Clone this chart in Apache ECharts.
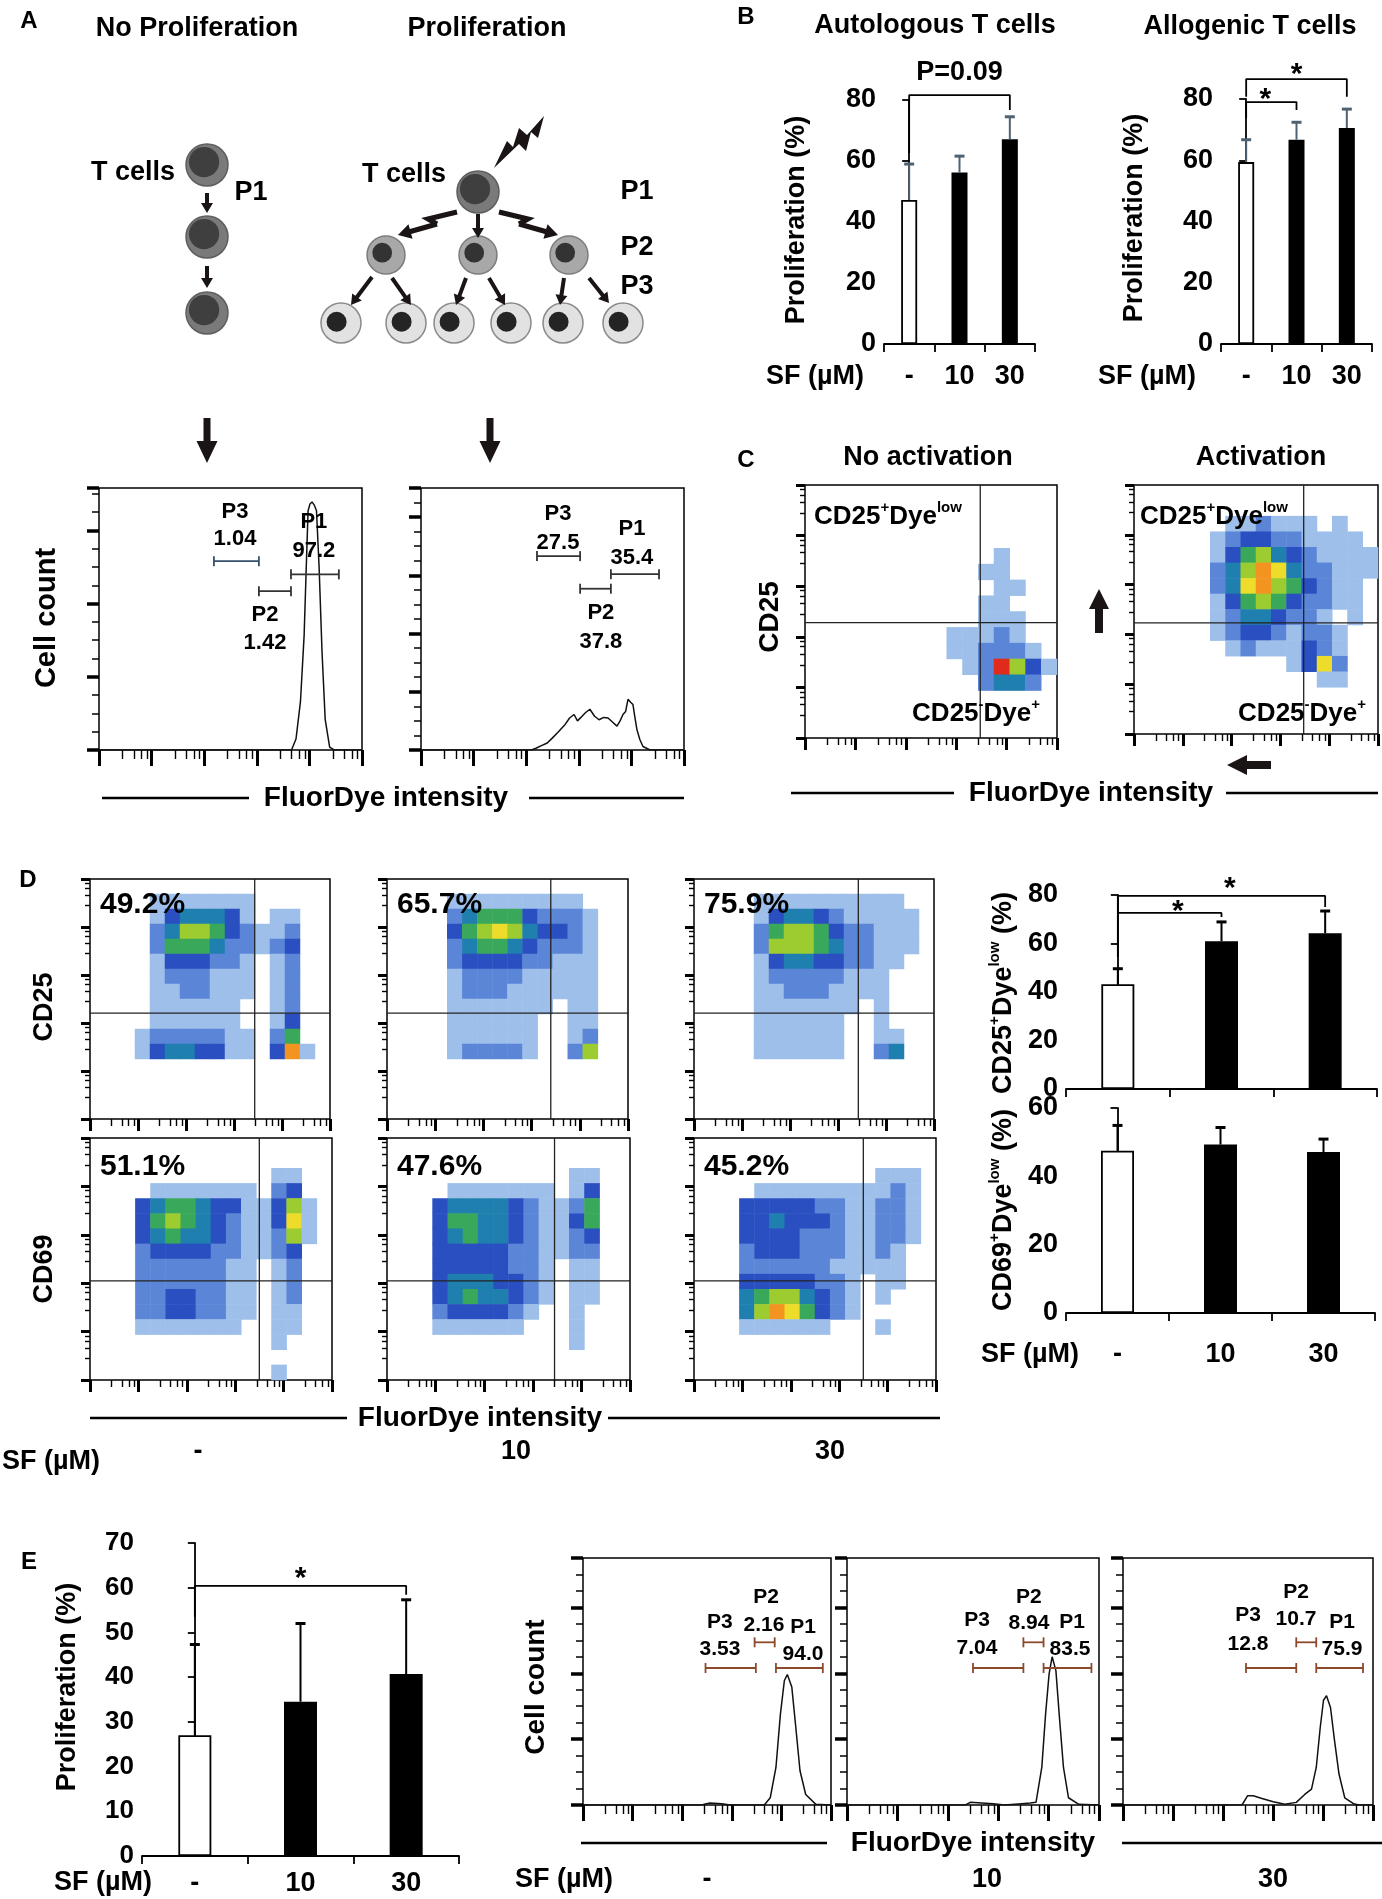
<!DOCTYPE html>
<html>
<head>
<meta charset="utf-8">
<script src="https://cdn.jsdelivr.net/npm/echarts@6/dist/echarts.min.js"></script>
<style>
  html, body { margin: 0; background: #fff; }
  #chart { width: 1382px; height: 1899px; }
</style>
</head>
<body>
<div id="chart"></div>
<script>
const FONT = "'Liberation Sans', Arial, Helvetica, sans-serif";

// ---------------- data ----------------
const doses = ['-', '10', '30'];

// B: proliferation (%) mean and SD
const autoMean = [47.2, 56.2, 67.1];
const autoSd = [11.8, 5.4, 7.4];
const alloMean = [59.4, 66.7, 70.5];
const alloSd = [7.3, 5.7, 6.2];

// D: CD25+Dye-low / CD69+Dye-low (%)
const cd25Mean = [43.2, 60.9, 64.2];
const cd25Sd = [6.4, 8.0, 9.2];
const cd69Mean = [47.5, 49.3, 47.1];
const cd69Sd = [7.4, 5.0, 3.8];
const cd25Pct = ['49.2%', '65.7%', '75.9%'];
const cd69Pct = ['51.1%', '47.6%', '45.2%'];

// E: proliferation (%)
const eMean = [27.0, 34.5, 40.7];
const eSd = [20.3, 17.5, 16.6];

// histograms: [FluorDye channel 0-1000, cell count]
const histNoProlif = [[0,0],[732,0],[749,15],[766,66],[780,157],[788,249],[795,327],[802,336],[810,339],[818,335],[827,327],[837,249],[848,134],[860,42],[877,4],[894,0],[1000,0]];
const histProlif = [[0,0],[420,0],[437,3],[460,8],[480,12],[498,20],[520,30],[548,44],[565,55],[582,61],[595,50],[608,56],[625,64],[642,70],[660,58],[677,52],[695,56],[711,55],[728,48],[745,41],[757,50],[768,61],[778,66],[787,87],[797,82],[806,78],[812,60],[821,35],[832,18],[844,6],[871,0],[1000,0]];
const histE0 = [[0,0],[480,0],[489,1],[512,3],[560,2],[593,0],[731,0],[755,11],[778,57],[796,138],[812,189],[824,198],[842,179],[858,118],[875,52],[898,16],[939,1],[1000,0]];
const histE10 = [[0,0],[470,0],[489,4],[535,3],[580,2],[625,0],[693,2],[727,3],[750,4],[773,57],[788,138],[802,199],[814,225],[829,204],[843,133],[859,57],[879,11],[920,1],[1000,0]];
const histE30 = [[0,0],[476,0],[498,14],[521,14],[556,10],[601,5],[647,1],[693,4],[727,16],[754,24],[773,57],[789,118],[802,159],[814,166],[830,148],[846,98],[864,47],[887,11],[922,2],[944,0],[1000,0]];

// gates: [name, percent, from channel, to channel]
const gatesNoProlif = [['P3','1.04',437,608],['P2','1.42',608,730],['P1','97.2',730,912]];
const gatesProlif = [['P3','27.5',441,605],['P2','37.8',605,722],['P1','35.4',722,905]];
const gatesE0 = [['P3','3.53',494,697],['P2','2.16',692,773],['P1','94.0',778,967]];
const gatesE10 = [['P3','7.04',500,700],['P2','8.94',700,780],['P1','83.5',780,970]];
const gatesE30 = [['P3','12.8',492,693],['P2','10.7',693,773],['P1','75.9',773,960]];

// dot-plot density (16 x 16 bins, top row first, 0 = empty ... 9 = densest)
const c1Rows = ['0000000000000000','0000000000000000','0000000000000000','0000000000000000',
  '0000000000001000','0000000000011000','0000000000001100','0000000000011000',
  '0000000000011100','0000000001112100','0000000001122210','0000000000129631',
  '0000000000024420','0000000000000000','0000000000000000','0000000000000000'];
const c2Rows = ['0000000000000000','0000000000000000','0000001121110100','0000012332211110',
  '0000013564321111','0000024687422111','0000024786532110','0000013565322110',
  '0000012443221010','0000012332122100','0000001211132100','0000000000137200',
  '0000000000001100','0000000000000000','0000000000000000','0000000000000000'];
const d25Rows0 = ['0000000000000000','0000111111100000','0000134443101100','0000246653211200',
  '0000255542212300','0000133322101200','0000122211101200','0000112211101200',
  '0000111111001200','0000111111001300','0001222221102500','0001344331103810',
  '0000000000000000','0000000000000000','0000000000000000','0000000000000000'];
const d25Rows10 = ['0000000000000000','0000111111111000','0000245553222100','0000356764332100',
  '0000245543222100','0000233332211100','0000122221111100','0000122211111100',
  '0000111111101100','0000111111001100','0000111111001200','0000122221002600',
  '0000000000000000','0000000000000000','0000000000000000','0000000000000000'];
const d25Rows30 = ['0000000000000000','0000111111111100','0000134432111110','0000256653221110',
  '0000266654221110','0000134433221100','0000122222111000','0000112221111000',
  '0000111111101000','0000111111001000','0000111111001100','0000111111002400',
  '0000000000000000','0000000000000000','0000000000000000','0000000000000000'];
const d69Rows0 = ['0000000000000000','0000000000000000','0000000000001100','0000111111102300',
  '0003455433113610','0003565432113710','0003454432112610','0002333322112300',
  '0002222221101200','0002222221101200','0002233221101200','0002233221101100',
  '0001111111001100','0000000000001000','0000000000000000','0000000000001000'];
const d69Rows10 = ['0000000000000000','0000000000000000','0000000000001100','0000111111101300',
  '0003444432112500','0003554432113500','0003454432112300','0003333322112200',
  '0003333322101100','0003444332101100','0003454432101100','0002333321001000',
  '0001111110001000','0000000000001000','0000000000000000','0000000000000000'];
const d69Rows30 = ['0000000000000000','0000000000000000','0000000000001110','0000111111111210',
  '0003333322112210','0003343332112210','0003333222112210','0002333222112100',
  '0002222221111100','0003333322101100','0004566432101000','0004687532100000',
  '0001111110001000','0000000000000000','0000000000000000','0000000000000000'];

// quadrant gates [FluorDye, marker] in fluorescence units
const gateC = [[3000, 190], [3000, 170]];
const gateD25 = [[2700, 160], [2500, 160], [2650, 160]];
const gateD69 = [[3150, 112], [2800, 112], [3150, 112]];

// ---------------- builders ----------------
const grids = [], xAxis = [], yAxis = [], series = [], heatIdx = [];
const bins = Array.from({ length: 16 }, (_, i) => String(i));

function addGrid(b, border) {
  grids.push({ left: b[0], top: b[1], width: b[2], height: b[3], show: !!border,
    borderColor: '#000', borderWidth: 1.5, backgroundColor: 'rgba(0,0,0,0)',
    containLabel: false, outerBoundsMode: 'none' });
  return grids.length - 1;
}

function decorAxis(gi, pos, len) {
  return { gridIndex: gi, type: 'log', logBase: 10, min: 1, max: 100000, position: pos, silent: true,
    axisLine: { show: false }, axisLabel: { show: false }, splitLine: { show: false },
    axisTick: { show: true, length: len, lineStyle: { color: '#000', width: 3 } },
    minorTick: { show: true, splitNumber: 5, length: Math.round(len * 0.55), lineStyle: { color: '#000', width: 1.4 } } };
}

function textSeries(xi, yi, items) {
  items.forEach(t => {
    series.push({ type: 'scatter', xAxisIndex: xi, yAxisIndex: yi, symbolSize: 0, silent: true, clip: false, z: 10,
      data: [[t[0], t[1]]], itemStyle: { color: '#000', opacity: 1 },
      label: { show: true, position: 'inside', formatter: t[2], color: '#000', fontSize: t[3] || 22,
        fontWeight: 'bold', fontFamily: FONT, offset: [0, t[4] || 0],
        textBorderWidth: 0, textBorderColor: 'transparent', opacity: 1 } });
  });
}

function gateRender(color) {
  return (params, api) => {
    const a = api.coord([api.value(0), api.value(2)]);
    const b = api.coord([api.value(1), api.value(2)]);
    const st = { stroke: color, lineWidth: 1.8 };
    return { type: 'group', children: [
      { type: 'line', shape: { x1: a[0], y1: a[1], x2: b[0], y2: b[1] }, style: st },
      { type: 'line', shape: { x1: a[0], y1: a[1] - 5, x2: a[0], y2: a[1] + 5 }, style: st },
      { type: 'line', shape: { x1: b[0], y1: b[1] - 5, x2: b[0], y2: b[1] + 5 }, style: st }] };
  };
}

function histPanel(box, hist, ymax, gates, lay) {
  const gi = addGrid(box, true);
  xAxis.push({ gridIndex: gi, type: 'value', min: 0, max: 1000, show: false, position: 'top' });
  const xv = xAxis.length - 1;
  yAxis.push({ gridIndex: gi, type: 'value', min: 0, max: ymax, interval: 100, position: 'left',
    axisLine: { show: false }, axisLabel: { show: false }, splitLine: { show: false },
    axisTick: { show: true, length: 12, lineStyle: { color: '#000', width: 3.5 } },
    minorTick: { show: true, splitNumber: 4, length: 7, lineStyle: { color: '#000', width: 1.5 } } });
  const yv = yAxis.length - 1;
  xAxis.push(decorAxis(gi, 'bottom', 16));
  series.push({ type: 'line', xAxisIndex: xv, yAxisIndex: yv, data: hist, symbol: 'none', silent: true,
    lineStyle: { color: '#111', width: 1.5 }, z: 3 });
  gates.forEach((g, i) => {
    series.push({ type: 'custom', xAxisIndex: xv, yAxisIndex: yv, silent: true, z: 5,
      data: [[g[2], g[3], lay.levels[i]]], renderItem: gateRender(lay.colors[i]) });
    textSeries(xv, yv, [[lay.names[i][0], lay.names[i][1], g[0], lay.size],
      [lay.pcts[i][0], lay.pcts[i][1], g[1], lay.size]]);
  });
}

function facsPanel(box, rows, gate) {
  const gi = addGrid(box, true);
  xAxis.push({ gridIndex: gi, type: 'category', data: bins, show: false, position: 'top' });
  const xc = xAxis.length - 1;
  yAxis.push({ gridIndex: gi, type: 'category', data: bins, show: false, position: 'right' });
  const yc = yAxis.length - 1;
  xAxis.push(decorAxis(gi, 'bottom', 12));
  const xd = xAxis.length - 1;
  yAxis.push(decorAxis(gi, 'left', 9));
  const yd = yAxis.length - 1;
  const cells = [];
  rows.forEach((row, k) => {
    for (let c = 0; c < row.length; c++) {
      const v = +row[c];
      if (v > 0) cells.push([c, rows.length - 1 - k, v]);
    }
  });
  heatIdx.push(series.length);
  series.push({ type: 'heatmap', xAxisIndex: xc, yAxisIndex: yc, data: cells, silent: true, z: 2 });
  const gl = { type: 'line', xAxisIndex: xd, yAxisIndex: yd, symbol: 'none', silent: true,
    lineStyle: { color: '#222', width: 1.3 }, z: 4 };
  series.push(Object.assign({}, gl, { data: [[gate[0], 1], [gate[0], 100000]] }));
  series.push(Object.assign({}, gl, { data: [[1, gate[1]], [100000, gate[1]]] }));
}

function errRender(color) {
  return (params, api) => {
    const p0 = api.coord([api.value(0), api.value(1)]);
    const p1 = api.coord([api.value(0), api.value(2)]);
    return { type: 'group', children: [
      { type: 'line', shape: { x1: p0[0], y1: p0[1], x2: p1[0], y2: p1[1] }, style: { stroke: color, lineWidth: 2 } },
      { type: 'line', shape: { x1: p1[0] - 5, y1: p1[1], x2: p1[0] + 5, y2: p1[1] }, style: { stroke: color, lineWidth: 3 } }] };
  };
}

function barPanel(box, mean, sd, o) {
  const gi = addGrid(box, false);
  xAxis.push({ gridIndex: gi, type: 'category', data: doses,
    axisLine: { show: true, lineStyle: { color: '#000', width: 1.8 } },
    axisTick: { show: true, length: 8, lineStyle: { color: '#000', width: 1.8 } },
    axisLabel: { show: o.labels, margin: o.margin, color: '#000', fontSize: 27, fontWeight: 'bold', fontFamily: FONT },
    splitLine: { show: false } });
  const xi = xAxis.length - 1;
  // hidden index axis so annotations can sit between categories
  xAxis.push({ gridIndex: gi, type: 'value', min: -0.5, max: doses.length - 0.5, show: false, position: 'top' });
  const xn = xAxis.length - 1;
  yAxis.push({ gridIndex: gi, type: 'value', min: 0, max: o.max, interval: o.step,
    axisLine: { show: true, lineStyle: { color: '#000', width: 1.8 } },
    axisTick: { show: true, length: 7, lineStyle: { color: '#000', width: 1.8 } },
    axisLabel: { color: '#000', fontSize: o.font || 27, fontWeight: 'bold', fontFamily: FONT, margin: 8 },
    splitLine: { show: false } });
  const yi = yAxis.length - 1;
  series.push({ type: 'bar', xAxisIndex: xi, yAxisIndex: yi, barWidth: o.barWidth, silent: true, z: 3,
    data: mean.map((v, i) => ({ value: v, itemStyle: i === 0
      ? { color: '#fff', borderColor: '#000', borderWidth: 1.8 } : { color: '#000' } })) });
  series.push({ type: 'custom', xAxisIndex: xi, yAxisIndex: yi, silent: true, z: 5,
    data: mean.map((v, i) => [i, v, v + sd[i]]), renderItem: errRender(o.errColor) });
  (o.brackets || []).forEach(b => series.push({ type: 'line', xAxisIndex: xn, yAxisIndex: yi, data: b,
    symbol: 'none', clip: false, silent: true, lineStyle: { color: '#000', width: 1.8 }, z: 6 }));
  if (o.notes) textSeries(xn, yi, o.notes);
}

// ---------------- panels ----------------
// A histograms
histPanel([99, 488, 263, 262], histNoProlif, 358, gatesNoProlif, {
  levels: [258, 217, 240], colors: ['#35506b', '#333', '#333'], size: 22,
  names: [[517, 325], [631, 184], [817, 311]], pcts: [[517, 288], [631, 146], [817, 272]] });
histPanel([421, 488, 263, 262], histProlif, 450, gatesProlif, {
  levels: [333, 277, 302], colors: ['#333', '#333', '#333'], size: 22,
  names: [[521, 405], [684, 235], [802, 380]], pcts: [[521, 356], [684, 185], [802, 330]] });

// B bars
barPanel([884, 100, 151, 244], autoMean, autoSd, { max: 80, step: 20, barWidth: 16, labels: true, margin: 19,
  errColor: '#4f6272', brackets: [[[0, 62.6], [0, 81.6], [2, 81.6], [2, 76.7]]],
  notes: [[1, 88.9, 'P=0.09', 27]] });
barPanel([1221, 99, 151, 245], alloMean, alloSd, { max: 80, step: 20, barWidth: 16, labels: true, margin: 19,
  errColor: '#4f6272', brackets: [[[0, 73.8], [0, 79.0], [1, 79.0], [1, 76.4]], [[0, 80.7], [0, 86.5], [2, 86.5], [2, 80.7]]],
  notes: [[0.38, 82, '*', 30, 7], [1, 90.1, '*', 30, 7]] });

// C dot plots
facsPanel([805, 485, 252, 253], c1Rows, gateC[0]);
facsPanel([1134, 485, 244, 249], c2Rows, gateC[1]);

// D dot plots
const dCols = [[90, 240], [387, 241], [694, 240]];
[d25Rows0, d25Rows10, d25Rows30].forEach((r, i) => facsPanel([dCols[i][0], 879, dCols[i][1], 240], r, gateD25[i]));
[d69Rows0, d69Rows10, d69Rows30].forEach((r, i) => facsPanel([dCols[i][0], 1138, dCols[i][1] + 2, 242], r, gateD69[i]));

// D bars
barPanel([1066, 895, 311, 194], cd25Mean, cd25Sd, { max: 80, step: 20, barWidth: 33, labels: false, margin: 10,
  errColor: '#000', brackets: [[[0, 54.4], [0, 72.6], [1, 72.6], [1, 70.9]], [[0, 72.6], [0, 79.6], [2, 79.6], [2, 75.1]]],
  notes: [[0.58, 75.9, '*', 30, 7], [1.08, 85.4, '*', 30, 7]] });
barPanel([1066, 1108, 309, 205], cd69Mean, cd69Sd, { max: 60, step: 20, barWidth: 33, labels: true, margin: 28,
  errColor: '#000' });

// E bars
barPanel([142, 1543, 317, 313], eMean, eSd, { max: 70, step: 10, barWidth: 33, labels: true, margin: 14, font: 26,
  errColor: '#000', brackets: [[[0, 53.5], [0, 60.4], [2, 60.4], [2, 58.4]]],
  notes: [[1, 63.5, '*', 30, 7]] });

// E histograms
const eGateColors = ['#8b4a2b', '#8b4a2b', '#8b4a2b'];
histPanel([583, 1558, 248, 247], histE0, 375, gatesE0, { levels: [208, 247, 208], colors: eGateColors, size: 21,
  names: [[552, 278], [738, 316], [887, 270]], pcts: [[552, 237], [730, 273], [887, 229]] });
histPanel([847, 1558, 252, 247], histE10, 375, gatesE10, { levels: [208, 247, 208], colors: eGateColors, size: 21,
  names: [[516, 281], [722, 316], [893, 278]], pcts: [[516, 238], [722, 276], [885, 237]] });
histPanel([1123, 1558, 250, 247], histE30, 375, gatesE30, { levels: [208, 247, 208], colors: eGateColors, size: 21,
  names: [[500, 288], [692, 323], [876, 278]], pcts: [[500, 244], [692, 282], [876, 237]] });

// ---------------- drawings and text ----------------
const G = [];
function txt(x, y, s, o) {
  o = o || {};
  G.push({ type: 'text', x: x, y: y, rotation: o.rot || 0, z: 100, silent: true,
    style: { text: s, fill: '#000', fontSize: o.size || 27, fontWeight: 'bold', fontFamily: FONT,
      align: o.align || 'center', textAlign: o.align || 'center', verticalAlign: 'middle', textVerticalAlign: 'middle',
      rich: o.rich } });
}
function rule(x1, x2, y) {
  G.push({ type: 'line', shape: { x1: x1, y1: y, x2: x2, y2: y }, style: { stroke: '#000', lineWidth: 2.5 }, silent: true, z: 100 });
}
function arrowPts(x1, y1, x2, y2, w, hw, hl) {
  const dx = x2 - x1, dy = y2 - y1, L = Math.hypot(dx, dy), ux = dx / L, uy = dy / L, nx = -uy, ny = ux;
  const bx = x2 - ux * hl, by = y2 - uy * hl;
  return [[x1 + nx * w / 2, y1 + ny * w / 2], [bx + nx * w / 2, by + ny * w / 2], [bx + nx * hw / 2, by + ny * hw / 2],
    [x2, y2], [bx - nx * hw / 2, by - ny * hw / 2], [bx - nx * w / 2, by - ny * w / 2], [x1 - nx * w / 2, y1 - ny * w / 2]];
}
function arrow(x1, y1, x2, y2, w, hw, hl) {
  G.push({ type: 'polygon', shape: { points: arrowPts(x1, y1, x2, y2, w, hw, hl) }, style: { fill: '#1a1414' }, silent: true, z: 100 });
}
function zig(points, w) {
  G.push({ type: 'polyline', shape: { points: points }, style: { stroke: '#1a1414', lineWidth: w, lineJoin: 'miter' }, silent: true, z: 100 });
}
const cellShades = {
  top: { fill: '#7a7a7a', stroke: '#5e5e5e', nuc: '#3f3f3f', k: 0.72, dx: -0.14, dy: -0.14 },
  mid: { fill: '#a8a8a8', stroke: '#7c7c7c', nuc: '#333333', k: 0.52, dx: -0.2, dy: -0.12 },
  low: { fill: '#e2e2e2', stroke: '#8a8a8a', nuc: '#242424', k: 0.5, dx: -0.22, dy: -0.06 }
};
function cell(x, y, r, kind) {
  const s = cellShades[kind];
  G.push({ type: 'circle', shape: { cx: x, cy: y, r: r }, style: { fill: s.fill, stroke: s.stroke, lineWidth: 1.5 }, silent: true, z: 90 });
  G.push({ type: 'circle', shape: { cx: x + s.dx * r, cy: y + s.dy * r, r: r * s.k }, style: { fill: s.nuc }, silent: true, z: 91 });
}

// panel A drawing
txt(29, 21, 'A', { size: 24 });
txt(197, 29, 'No Proliferation');
txt(487, 29, 'Proliferation');
txt(133, 173, 'T cells');
txt(251, 193, 'P1');
[[207, 165], [207, 237], [207, 313]].forEach(p => cell(p[0], p[1], 21, 'top'));
arrow(207, 193, 207, 213, 4, 12, 10);
arrow(207, 266, 207, 288, 4, 12, 10);

txt(404, 175, 'T cells');
cell(478, 192, 21, 'top');
G.push({ type: 'polygon', silent: true, z: 100, style: { fill: '#1a1414' }, shape: { points:
  [[494, 168], [507, 141], [513, 147], [519, 128], [527, 135], [544, 116], [538, 138], [531, 132], [526, 151], [519, 144]] } });
zig([[457, 212], [428, 219], [437, 224]], 5);
arrow(437, 224, 398, 235, 5, 15, 13);
zig([[499, 212], [528, 219], [519, 224]], 5);
arrow(519, 224, 558, 235, 5, 15, 13);
arrow(478, 214, 478, 238, 4, 12, 10);
[[386, 255], [478, 255], [569, 255]].forEach(p => cell(p[0], p[1], 19, 'mid'));
arrow(372, 277, 351, 305, 4, 12, 10);
arrow(392, 278, 411, 305, 4, 12, 10);
arrow(466, 278, 456, 305, 4, 12, 10);
arrow(489, 278, 505, 305, 4, 12, 10);
arrow(564, 278, 560, 305, 4, 12, 10);
arrow(589, 278, 609, 303, 4, 12, 10);
[[341, 323], [406, 323], [454, 323], [511, 323], [563, 323], [623, 323]].forEach(p => cell(p[0], p[1], 20, 'low'));
txt(637, 192, 'P1');
txt(637, 248, 'P2');
txt(637, 287, 'P3');
arrow(207, 418, 207, 463, 7, 21, 22);
arrow(490, 418, 490, 463, 7, 21, 22);
txt(47, 618, 'Cell count', { rot: Math.PI / 2, size: 29 });
txt(386, 798, 'FluorDye intensity', { size: 28 });
rule(102, 249, 798);
rule(529, 684, 798);

// panel B text
txt(746, 17, 'B', { size: 24 });
txt(935, 26, 'Autologous T cells');
txt(1250, 27, 'Allogenic T cells');
txt(797, 220, 'Proliferation (%)', { rot: Math.PI / 2 });
txt(1135, 218, 'Proliferation (%)', { rot: Math.PI / 2 });
txt(815, 377, 'SF (\u00b5M)');
txt(1147, 377, 'SF (\u00b5M)');

// panel C text
const richSup = {
  b: { fontSize: 26, fontWeight: 'bold', fontFamily: FONT, color: '#000', lineHeight: 30, verticalAlign: 'bottom' },
  s: { fontSize: 15, fontWeight: 'bold', fontFamily: FONT, color: '#000', lineHeight: 16, verticalAlign: 'top' }
};
txt(746, 460, 'C', { size: 24 });
txt(928, 458, 'No activation');
txt(1261, 458, 'Activation');
txt(814, 515, '{b|CD25}{s|+}{b|Dye}{s|low}', { align: 'left', rich: richSup });
txt(1140, 515, '{b|CD25}{s|+}{b|Dye}{s|low}', { align: 'left', rich: richSup });
txt(1040, 712, '{b|CD25}{s|-}{b|Dye}{s|+}', { align: 'right', rich: richSup });
txt(1366, 712, '{b|CD25}{s|-}{b|Dye}{s|+}', { align: 'right', rich: richSup });
txt(770, 617, 'CD25', { rot: Math.PI / 2, size: 28 });
arrow(1099, 633, 1099, 589, 8, 20, 20);
arrow(1271, 765, 1227, 765, 8, 20, 20);
txt(1091, 793, 'FluorDye intensity', { size: 28 });
rule(791, 954, 793);
rule(1226, 1378, 793);

// panel D text
txt(28, 880, 'D', { size: 24 });
cd25Pct.forEach((p, i) => txt(dCols[i][0] + 10, 905, p, { align: 'left', size: 30 }));
cd69Pct.forEach((p, i) => txt(dCols[i][0] + 10, 1167, p, { align: 'left', size: 30 }));
txt(45, 1007, 'CD25', { rot: Math.PI / 2 });
txt(45, 1269, 'CD69', { rot: Math.PI / 2 });
txt(480, 1418, 'FluorDye intensity', { size: 28 });
rule(90, 347, 1418);
rule(608, 940, 1418);
txt(51, 1462, 'SF (\u00b5M)');
doses.forEach((d, i) => txt([198, 516, 830][i], 1452, d));
const richY = {
  b: { fontSize: 27, fontWeight: 'bold', fontFamily: FONT, color: '#000', lineHeight: 30, verticalAlign: 'bottom' },
  s: { fontSize: 15, fontWeight: 'bold', fontFamily: FONT, color: '#000', lineHeight: 16, verticalAlign: 'top' }
};
txt(1002, 993, '{b|CD25}{s|+}{b|Dye}{s|low}{b| (%)}', { rot: Math.PI / 2, rich: richY });
txt(1002, 1210, '{b|CD69}{s|+}{b|Dye}{s|low}{b| (%)}', { rot: Math.PI / 2, rich: richY });
txt(1030, 1355, 'SF (\u00b5M)');

// panel E text
txt(29, 1562, 'E', { size: 24 });
txt(68, 1687, 'Proliferation (%)', { rot: Math.PI / 2 });
txt(103, 1883, 'SF (\u00b5M)');
txt(536, 1687, 'Cell count', { rot: Math.PI / 2, size: 28 });
txt(973, 1843, 'FluorDye intensity', { size: 28 });
rule(581, 827, 1843);
rule(1122, 1382, 1843);
txt(564, 1880, 'SF (\u00b5M)');
doses.forEach((d, i) => txt([707, 987, 1273][i], 1880, d));

// ---------------- chart ----------------
const chart = echarts.init(document.getElementById('chart'));
chart.setOption({
  animation: false,
  backgroundColor: '#fff',
  textStyle: { fontFamily: FONT },
  grid: grids,
  xAxis: xAxis,
  yAxis: yAxis,
  visualMap: [{
    type: 'continuous', show: false, min: 1, max: 9, seriesIndex: heatIdx, dimension: 2,
    inRange: { color: ['#9dbfea', '#5b86d8', '#2a4fc0', '#1f7fae', '#3aa85a', '#9ccc30', '#eedc2a', '#f39420', '#e02a1c'] }
  }],
  series: series,
  graphic: { elements: G }
});
</script>
</body>
</html>
